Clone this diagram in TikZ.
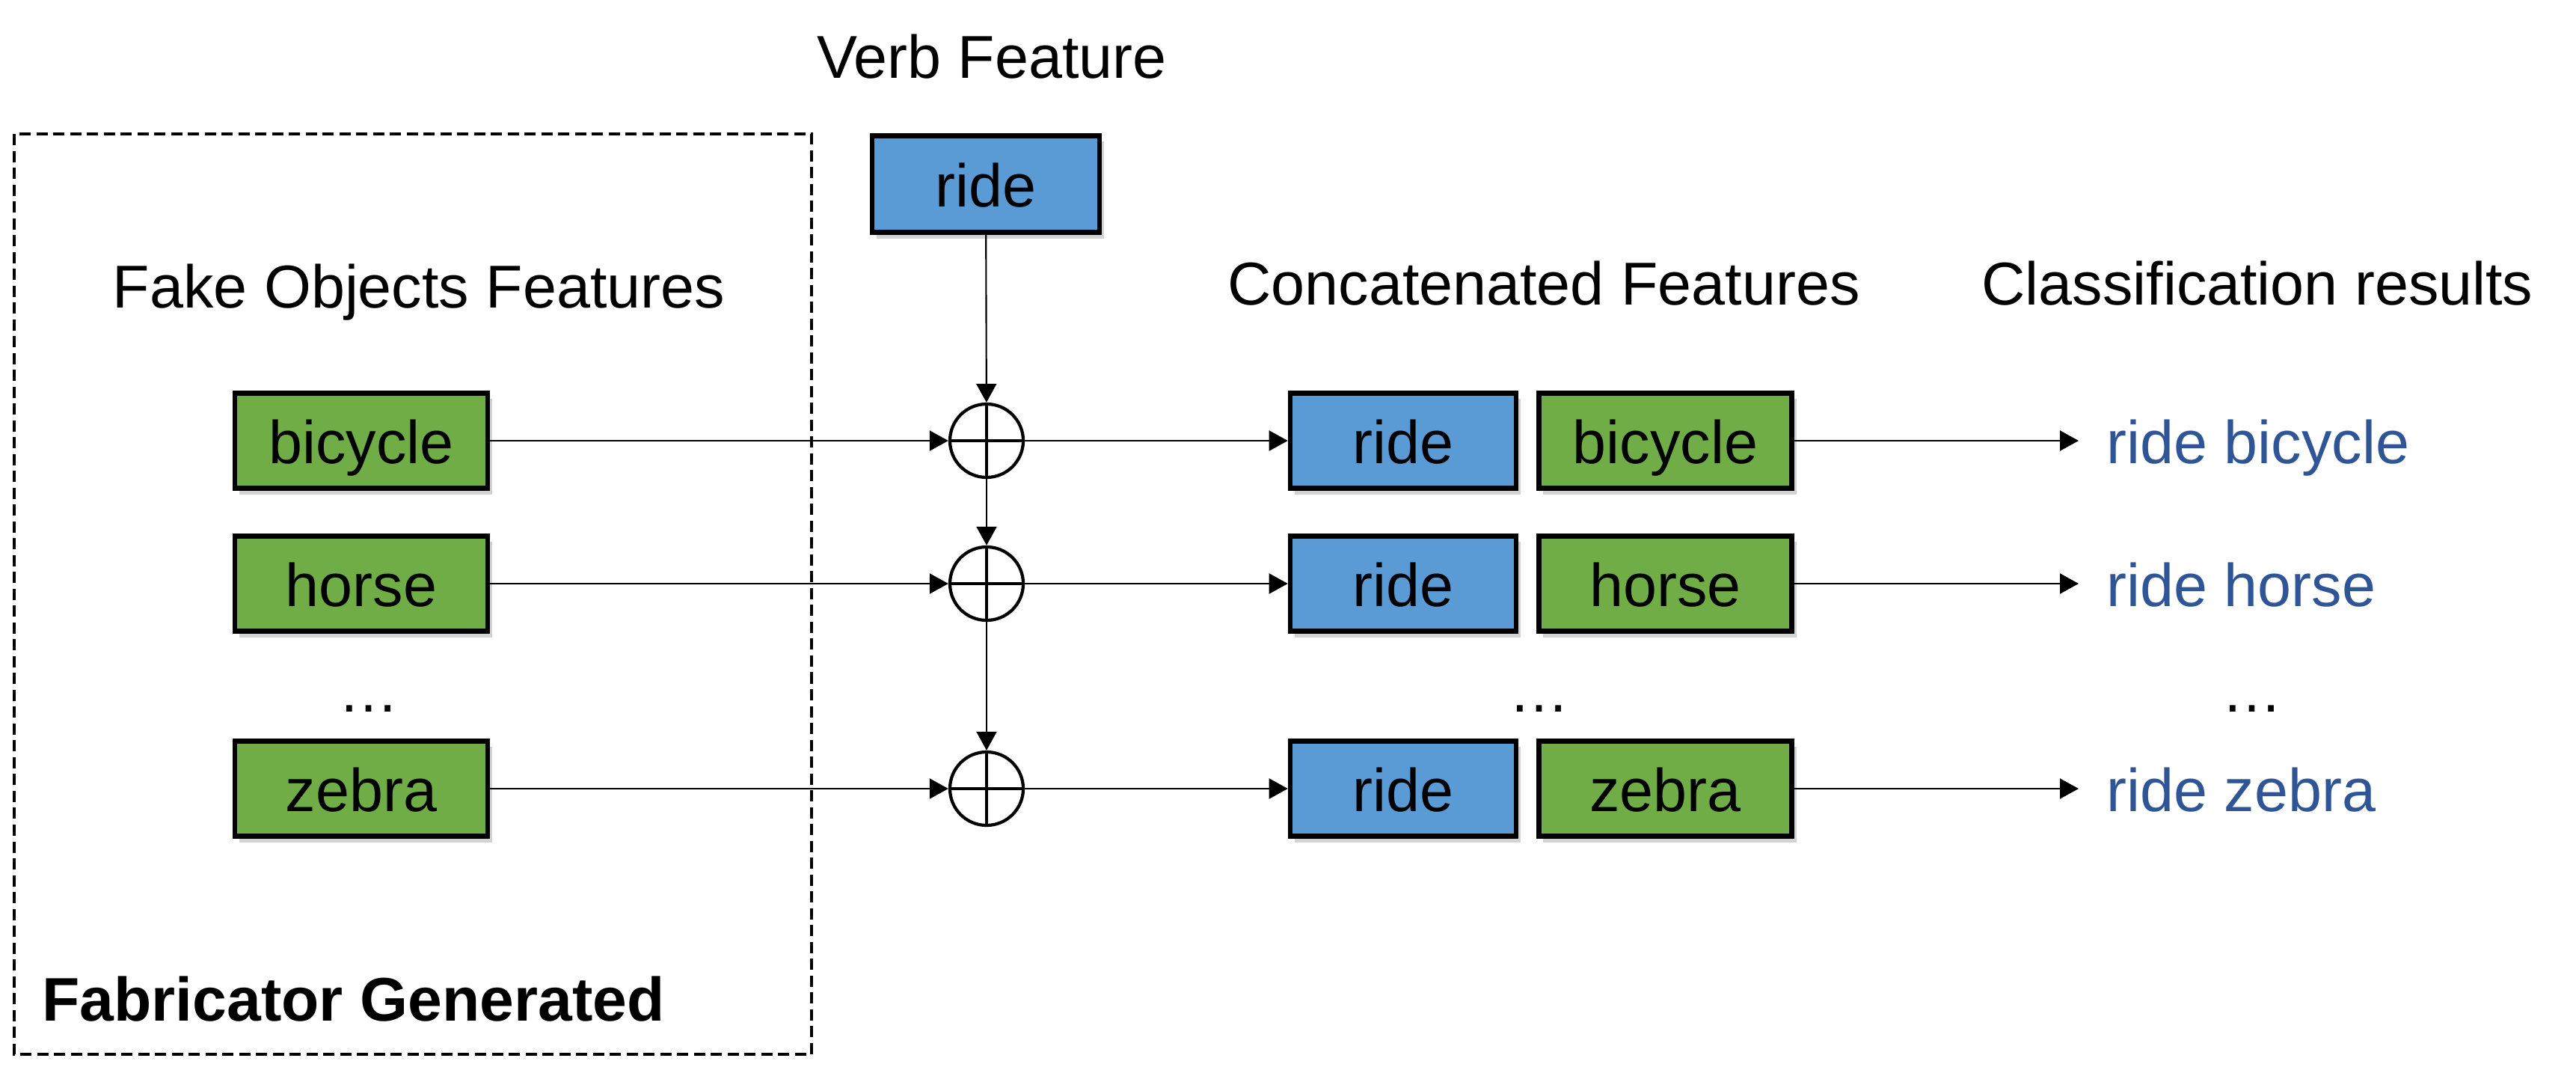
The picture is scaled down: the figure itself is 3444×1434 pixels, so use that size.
\documentclass[tikz,border=0pt]{standalone}
\usepackage{fontspec}
\setmainfont{Liberation Sans}
\usepackage{tikz}
\usetikzlibrary{arrows.meta,shadows,positioning}
\definecolor{objgreen}{HTML}{70AD47}
\definecolor{verbblue}{HTML}{5B9BD5}
\definecolor{resblue}{HTML}{2F5597}
\tikzset{
	featbox/.style={
		draw,line width=1.8pt,inner sep=0pt,text height=0.6cm,text depth=0pt,
		minimum height=1.27cm,
		drop shadow={shadow xshift=0.06cm,shadow yshift=-0.08cm,opacity=0.35}},
	objbox/.style={featbox,fill=objgreen,minimum width=3.38cm},
	verbbox/.style={featbox,fill=verbblue,minimum width=3.02cm},
	oplus/.style={
		circle,draw,line width=1.2pt,minimum size=0.98cm,inner sep=0pt,
		path picture={\draw[line width=1.2pt]
			(path picture bounding box.north) -- (path picture bounding box.south)
			(path picture bounding box.west) -- (path picture bounding box.east);}},
	res/.style={anchor=west,inner xsep=0.37cm,inner ysep=0pt,text height=0.6cm,text depth=0pt,text=resblue},
	conn/.style={line width=0.6pt,-{Triangle[length=0.25cm,width=0.27cm]}}
}

\begin{document}
\begin{tikzpicture}[x=0.01cm,y=-0.01cm,font=\fontsize{23}{28}\selectfont]
	\useasboundingbox (0,0) rectangle (3444,1434);
	\draw[line width=0.9pt,dash pattern=on 0.15cm off 0.075cm] (19,179) rectangle (1085,1409);
	\node[anchor=base] (ttlverb) at (1326,105) {Verb Feature};
	\node[anchor=base] (ttlobj) at (560,412) {Fake Objects Features};
	\node[anchor=base] (ttlcat) at (2064,408) {Concatenated Features};
	\node[anchor=base] (ttlres) at (3018,408) {Classification results};
	\node[anchor=base west,font=\fontsize{23.4}{28}\selectfont\bfseries] (fab) at (44,1364) {Fabricator Generated};
	\node[verbbox,minimum width=3.04cm,minimum height=1.29cm] (verb) at (1318,246) {ride};
	% one row per object
	\foreach \i/\obj/\y in {1/bicycle/589,2/horse/780,3/zebra/1054}{
		\node[objbox] (g\i) at (483,\y) {\obj};
		\node[oplus] (p\i) at (1319,\y) {};
		\node[verbbox] (v\i) at (1876,\y) {ride};
		\node[objbox,right=0.24cm of v\i] (o\i) {\obj};
		\node[res] (r\i) at (2779,\y) {ride \obj};
		\draw[conn] (g\i) -- (p\i);
		\draw[conn] (p\i) -- (v\i);
		\draw[conn] (o\i) -- (r\i);
	}
	\draw[conn] (verb) -- (p1);
	\draw[conn] (p1) -- (p2);
	\draw[conn] (p2) -- (p3);
	\node[anchor=base] (dots1) at (493,952) {…};
	\node[anchor=base] (dots2) at (2058,952) {…};
	\node[anchor=base] (dots3) at (3011,952) {…};
\end{tikzpicture}
\end{document}
